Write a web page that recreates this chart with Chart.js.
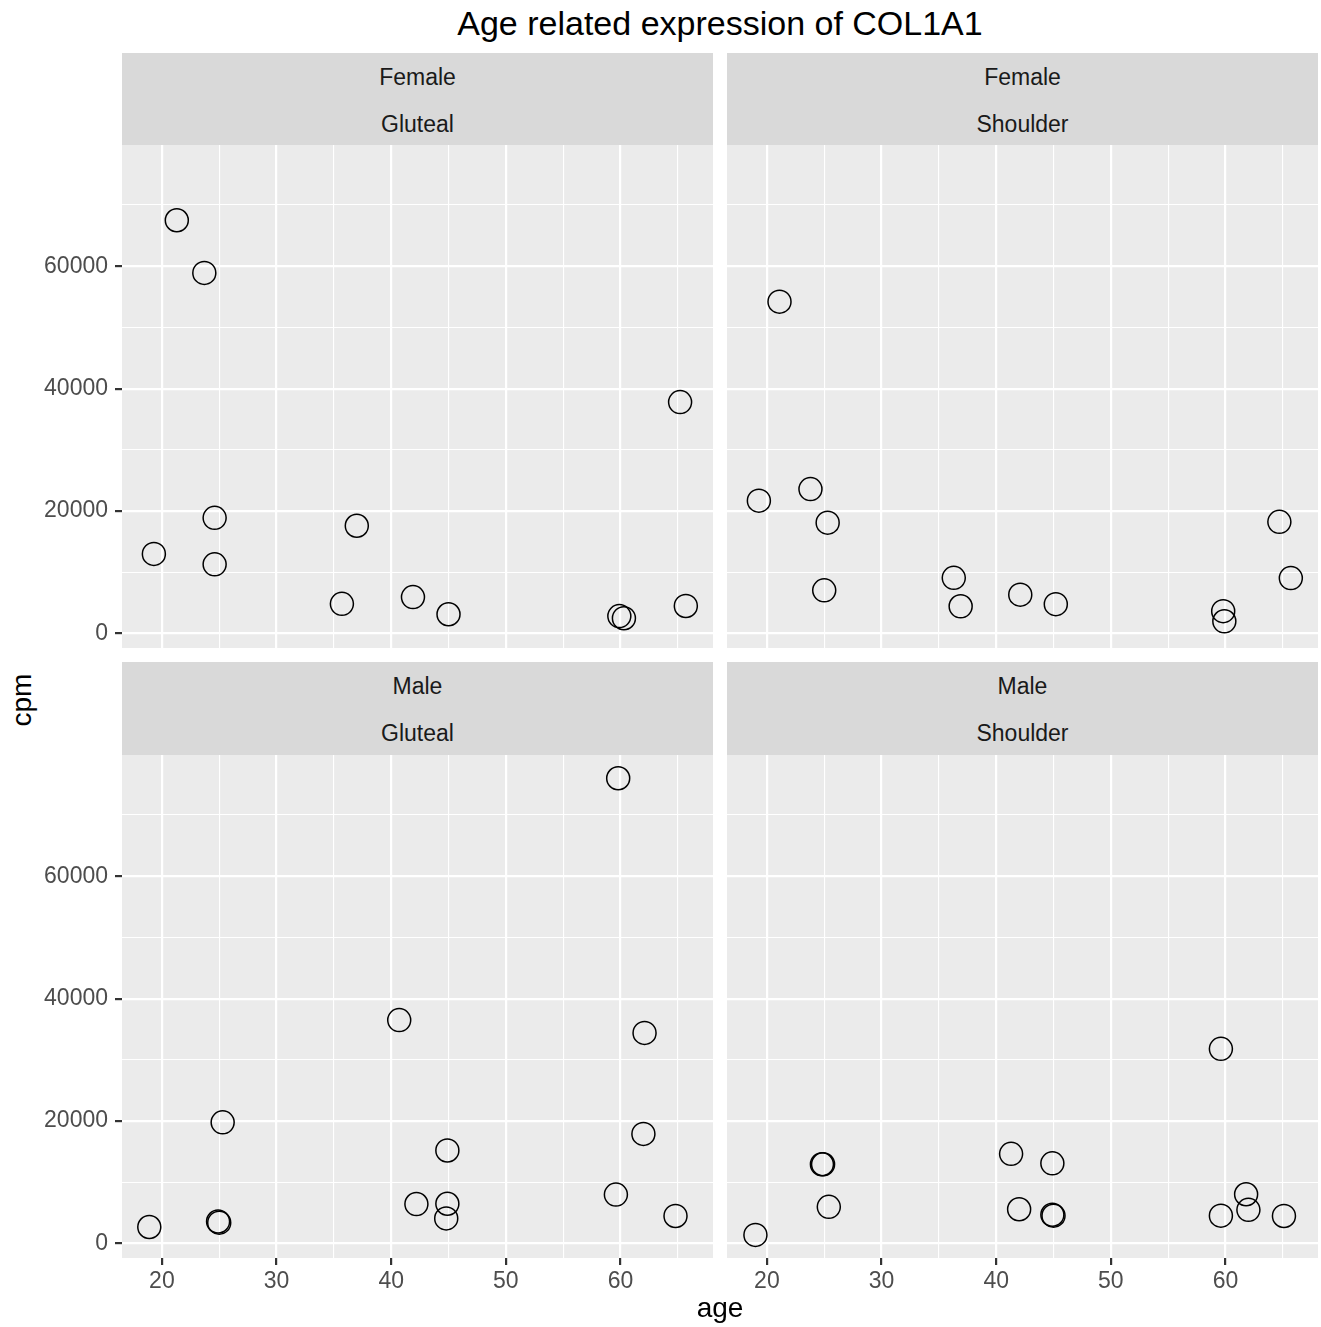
<!DOCTYPE html>
<html><head><meta charset="utf-8">
<script src="https://cdn.jsdelivr.net/npm/chart.js@4.4.1/dist/chart.umd.min.js"></script>
<style>
html,body{margin:0;padding:0;background:#fff;}
body{width:1321px;height:1327px;position:relative;overflow:hidden;font-family:"Liberation Sans",Arial,Helvetica,sans-serif;}
canvas{position:absolute;}
.strip{position:absolute;background:#D9D9D9;}
.sl{position:absolute;left:0;right:0;height:46px;line-height:46px;text-align:center;font-size:23px;color:#1A1A1A;white-space:nowrap;}
.title{position:absolute;left:122px;width:1196px;top:6px;height:34px;line-height:34px;font-size:34px;text-align:center;color:#000;white-space:nowrap;}
.xt{position:absolute;left:122px;width:1196px;top:1294px;height:28px;line-height:28px;font-size:28px;text-align:center;color:#000;}
.yt{position:absolute;left:-28px;top:686px;width:100px;height:28px;line-height:28px;font-size:28px;text-align:center;color:#000;transform:rotate(-90deg);}
</style>
</head><body>
<div class="title">Age related expression of COL1A1</div>

<div class="strip" style="left:122px;top:53px;width:591px;height:92px;"><div class="sl" style="top:1px">Female</div><div class="sl" style="top:48px">Gluteal</div></div>
<div class="strip" style="left:727px;top:53px;width:591px;height:92px;"><div class="sl" style="top:1px">Female</div><div class="sl" style="top:48px">Shoulder</div></div>
<div class="strip" style="left:122px;top:662px;width:591px;height:93px;"><div class="sl" style="top:1px">Male</div><div class="sl" style="top:48px">Gluteal</div></div>
<div class="strip" style="left:727px;top:662px;width:591px;height:93px;"><div class="sl" style="top:1px">Male</div><div class="sl" style="top:48px">Shoulder</div></div>

<canvas id="c0" width="713" height="503" style="left:0;top:145px;"></canvas>
<canvas id="c1" width="594" height="503" style="left:727px;top:145px;"></canvas>
<canvas id="c2" width="713" height="572" style="left:0;top:755px;"></canvas>
<canvas id="c3" width="594" height="572" style="left:727px;top:755px;"></canvas>

<div class="yt">cpm</div>
<div class="xt">age</div>

<script>
// ---- data ----
const femaleGlutealAge = [21.3, 23.7, 65.2, 24.6, 19.3, 24.6, 37.0, 35.7, 41.9, 45.0, 59.9, 60.3, 65.7];
const femaleGlutealCpm = [67500, 58900, 37800, 18900, 13000, 11300, 17600, 4850, 5950, 3150, 2850, 2500, 4500];

const femaleShoulderAge = [21.1, 19.3, 23.8, 25.3, 25.0, 36.3, 36.9, 42.1, 45.2, 59.8, 59.9, 64.7, 65.7];
const femaleShoulderCpm = [54200, 21700, 23600, 18100, 7050, 9100, 4450, 6350, 4800, 3650, 2000, 18250, 9050];

const maleGlutealAge = [59.8, 40.7, 62.1, 25.3, 62.0, 44.9, 18.9, 24.9, 25.0, 42.2, 44.9, 44.8, 59.6, 64.8];
const maleGlutealCpm = [76000, 36500, 34400, 19800, 17900, 15200, 2700, 3600, 3400, 6450, 6500, 4100, 8000, 4500];

const maleShoulderAge = [19.0, 24.8, 24.9, 25.4, 41.3, 44.9, 42.0, 44.9, 45.0, 59.6, 61.8, 62.0, 59.6, 65.1];
const maleShoulderCpm = [1400, 12950, 12950, 6000, 14650, 13100, 5600, 4700, 4550, 31800, 8050, 5500, 4550, 4500];

const xTicks = [20, 25, 30, 35, 40, 45, 50, 55, 60, 65];
const xMajor = [20, 30, 40, 50, 60];
const yTicks = [0, 10000, 20000, 30000, 40000, 50000, 60000, 70000];
const yMajor = [0, 20000, 40000, 60000];

const X_MIN = 16.52, X_MAX = 68.07;
const Y_MIN = -2365, Y_MAX = 79795;

const FONT = '"Liberation Sans", Arial, Helvetica, sans-serif';

const bgPlugin = {
  id: 'panelBg',
  beforeDraw(chart) {
    const a = chart.chartArea, ctx = chart.ctx;
    ctx.save();
    ctx.fillStyle = '#EBEBEB';
    ctx.fillRect(a.left, a.top, a.right - a.left, a.bottom - a.top);
    ctx.restore();
  }
};

function zeroPad(s) { s.paddingLeft = 0; s.paddingRight = 0; s.paddingTop = 0; s.paddingBottom = 0; }

function makeChart(id, ages, cpms, showX, showY, xAxisH, yAxisW, padRight) {
  const isMajX = c => c.tick && xMajor.includes(c.tick.value);
  const isMajY = c => c.tick && yMajor.includes(c.tick.value);
  new Chart(document.getElementById(id), {
    type: 'scatter',
    data: {
      datasets: [{
        data: ages.map((a, i) => ({ x: a, y: cpms[i] })),
        pointStyle: 'circle',
        pointRadius: 11.5,
        pointBorderWidth: 1.5,
        pointBackgroundColor: 'rgba(0,0,0,0)',
        pointBorderColor: '#000',
        showLine: false
      }]
    },
    options: {
      responsive: false,
      animation: false,
      events: [],
      layout: { padding: { left: 0, right: padRight, top: 0, bottom: 0 }, autoPadding: false },
      plugins: { legend: { display: false }, tooltip: { enabled: false }, title: { display: false } },
      scales: {
        x: {
          type: 'linear', position: 'bottom', min: X_MIN, max: X_MAX,
          afterBuildTicks: s => { s.ticks = xTicks.map(v => ({ value: v })); },
          afterFit: s => { s.height = xAxisH; zeroPad(s); },
          border: { display: false },
          grid: {
            color: '#FFFFFF',
            lineWidth: c => isMajX(c) ? 2.2 : 1.1,
            drawTicks: showX, tickLength: 7,
            tickColor: c => isMajX(c) ? '#333333' : 'rgba(0,0,0,0)',
            tickWidth: 2.2
          },
          ticks: {
            display: showX, autoSkip: false, maxRotation: 0, minRotation: 0, padding: 3,
            color: '#4D4D4D', font: { family: FONT, size: 23 },
            callback: v => xMajor.includes(v) ? String(v) : ''
          }
        },
        y: {
          type: 'linear', position: 'left', min: Y_MIN, max: Y_MAX,
          afterBuildTicks: s => { s.ticks = yTicks.map(v => ({ value: v })); },
          afterFit: s => { s.width = yAxisW; zeroPad(s); },
          border: { display: false },
          grid: {
            color: '#FFFFFF',
            lineWidth: c => isMajY(c) ? 2.2 : 1.1,
            drawTicks: showY, tickLength: 7,
            tickColor: c => isMajY(c) ? '#333333' : 'rgba(0,0,0,0)',
            tickWidth: 2.2
          },
          ticks: {
            display: showY, autoSkip: false, padding: 7,
            color: '#4D4D4D', font: { family: FONT, size: 23 },
            callback: v => yMajor.includes(v) ? String(v) : ''
          }
        }
      }
    },
    plugins: [bgPlugin]
  });
}

makeChart('c0', femaleGlutealAge, femaleGlutealCpm, false, true, 0, 122, 0);
makeChart('c1', femaleShoulderAge, femaleShoulderCpm, false, false, 0, 0, 3);
makeChart('c2', maleGlutealAge, maleGlutealCpm, true, true, 69, 122, 0);
makeChart('c3', maleShoulderAge, maleShoulderCpm, true, false, 69, 0, 3);
</script>
</body></html>
